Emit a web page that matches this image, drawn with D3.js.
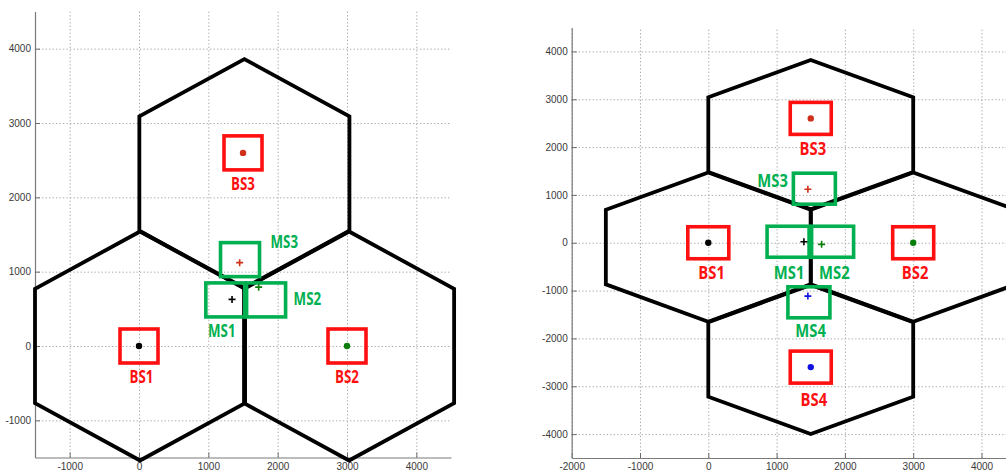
<!DOCTYPE html>
<html><head><meta charset="utf-8">
<script src="https://cdn.jsdelivr.net/npm/d3@7"></script>
<style>
body{margin:0;background:#fff;}
svg{display:block;}
.tick text{font-family:"Liberation Sans",Arial,sans-serif;font-size:10px;fill:#3a3a3a;}
.lbl{font-family:"Open Sans","Liberation Sans",sans-serif;font-weight:700;font-size:18.5px;}
</style></head>
<body>
<svg id="c" width="1006" height="475"></svg>
<script>
// ---------- data: left panel (3 cells) ----------
const leftTicksX = [-1000, 0, 1000, 2000, 3000, 4000];
const leftTicksY = [-1000, 0, 1000, 2000, 3000, 4000];
const leftCellX = [15, 3030, 1520];
const leftCellY = [0, 0, 2320];
const leftBSNames = ["BS1", "BS2", "BS3"];
const leftBSX = [0, 3000, 1500];
const leftBSY = [0, 0, 2598];
const leftBSLabelX = [35, 3000, 1500];
const leftBSLabelY = [-411, -411, 2186];
const leftMSNames = ["MS1", "MS2", "MS3"];
const leftMSX = [1342, 1726, 1452];
const leftMSY = [627, 792, 1121];
const leftMSBoxX = [1245, 1833, 1457];
const leftMSBoxY = [620, 620, 1162];
const leftMSLabelX = [1194, 2428, 2096];
const leftMSLabelY = [209, 644, 1408];

// ---------- data: right panel (4 cells) ----------
const rightTicksX = [-2000, -1000, 0, 1000, 2000, 3000, 4000];
const rightTicksY = [-4000, -3000, -2000, -1000, 0, 1000, 2000, 3000, 4000];
const rightCellX = [0, 3000, 1500, 1500];
const rightCellY = [-90, -90, 2260, -2440];
const rightBSNames = ["BS1", "BS2", "BS3", "BS4"];
const rightBSX = [0, 3000, 1500, 1500];
const rightBSY = [0, 0, 2600, -2600];
const rightBSLabelX = [48, 3028, 1531, 1546];
const rightBSLabelY = [-613, -613, 1981, -3276];
const rightMSNames = ["MS1", "MS2", "MS3", "MS4"];
const rightMSX = [1400, 1659, 1458, 1458];
const rightMSY = [21, -33, 1117, -1115];
const rightMSBoxX = [1168, 1820, 1553, 1473];
const rightMSBoxY = [21, 21, 1130, -1245];
const rightMSLabelX = [1183, 1845, 941, 1498];
const rightMSLabelY = [-613, -613, 1312, -1826];

const seriesColors = ["#000000", "#0b7d0b", "#d0301a", "#1010e0"];

// ---------- drawing ----------
const svg = d3.select("#c");
const RED = "#ff1010", GREEN = "#00b050";

function panel(cfg) {
  const x = d3.scaleLinear().domain(cfg.xDomain).range(cfg.xRange);
  const y = d3.scaleLinear().domain(cfg.yDomain).range(cfg.yRange);
  const g = svg.append("g");
  const [x0, x1] = cfg.xRange, [y0, y1] = cfg.yRange; // y0 bottom, y1 top
  const w = x1 - x0, h = y0 - y1;

  // grid
  const gx = g.append("g").attr("transform", `translate(0,${y0})`)
    .call(d3.axisBottom(x).tickValues(cfg.ticksX).tickSize(-h).tickFormat(""));
  const gy = g.append("g").attr("transform", `translate(${x0},0)`)
    .call(d3.axisLeft(y).tickValues(cfg.ticksY).tickSize(-w).tickFormat(""));
  [gx, gy].forEach(a => {
    a.select(".domain").remove();
    a.selectAll("line").attr("stroke", "#a8a8a8").attr("stroke-dasharray", "1.3,2.2").attr("stroke-width", 1);
  });

  // axes
  const ax = g.append("g").attr("transform", `translate(0,${y0})`)
    .call(d3.axisBottom(x).tickValues(cfg.ticksX).tickSizeInner(-5).tickSizeOuter(0).tickPadding(5).tickFormat(d3.format("d")));
  const ay = g.append("g").attr("transform", `translate(${x0},0)`)
    .call(d3.axisLeft(y).tickValues(cfg.ticksY).tickSizeInner(-5).tickSizeOuter(0).tickPadding(4).tickFormat(d3.format("d")));
  [ax, ay].forEach(a => {
    a.select(".domain").attr("stroke", "#7a7a7a").attr("stroke-width", 1.2);
    a.selectAll(".tick line").attr("stroke", "#6a6a6a");
  });
  ax.selectAll(".tick text").text(d => String(d));
  ay.selectAll(".tick text").text(d => String(d));

  // hexagons
  const hw = cfg.hexHalfW, R = cfg.hexR;
  const hexPts = (cx, cy) => [
    [cx, cy + R], [cx + hw, cy + R / 2], [cx + hw, cy - R / 2],
    [cx, cy - R], [cx - hw, cy - R / 2], [cx - hw, cy + R / 2]
  ];
  const line = d3.line().x(d => x(d[0])).y(d => y(d[1])).curve(d3.curveLinearClosed);
  g.append("g").selectAll("path").data(cfg.cellX.map((cx, i) => hexPts(cx, cfg.cellY[i])))
    .join("path").attr("d", line).attr("fill", "none")
    .attr("stroke", "#000").attr("stroke-width", 3.8).attr("stroke-linejoin", "miter");

  // red BS boxes
  const bw = cfg.bsBox[0], bh = cfg.bsBox[1];
  g.append("g").selectAll("rect").data(cfg.bsX.map((v, i) => [v, cfg.bsY[i]]))
    .join("rect")
    .attr("x", d => x(d[0]) - bw / 2).attr("y", d => y(d[1]) - bh / 2)
    .attr("width", bw).attr("height", bh)
    .attr("fill", "none").attr("stroke", RED).attr("stroke-width", 3.6);

  // green MS boxes
  const mw = cfg.msBox[0], mh = cfg.msBox[1];
  g.append("g").selectAll("rect").data(cfg.msBoxX.map((v, i) => [v, cfg.msBoxY[i]]))
    .join("rect")
    .attr("x", d => x(d[0]) - mw / 2).attr("y", d => y(d[1]) - mh / 2)
    .attr("width", mw).attr("height", mh)
    .attr("fill", "none").attr("stroke", GREEN).attr("stroke-width", 3.6);

  // BS dots
  g.append("g").selectAll("circle").data(cfg.bsX.map((v, i) => [v, cfg.bsY[i], i]))
    .join("circle").attr("cx", d => x(d[0])).attr("cy", d => y(d[1])).attr("r", 3.2)
    .attr("fill", d => seriesColors[d[2]]);

  // MS plus markers
  const pg = g.append("g").selectAll("g").data(cfg.msX.map((v, i) => [v, cfg.msY[i], i])).join("g")
    .attr("transform", d => `translate(${x(d[0])},${y(d[1])})`);
  pg.append("path").attr("d", "M-3.5,0H3.5M0,-3.5V3.5")
    .attr("stroke", d => seriesColors[d[2]]).attr("stroke-width", 1.6);

  // labels (condensed via horizontal scale)
  const s = cfg.labelScale;
  g.append("g").selectAll("text").data(cfg.bsNames.map((n, i) => [n, cfg.bsLX[i], cfg.bsLY[i]]))
    .join("text").attr("class", "lbl").attr("fill", RED).attr("text-anchor", "middle")
    .attr("transform", d => `translate(${x(d[1])},${y(d[2])}) scale(${s},1)`)
    .attr("dy", "0.36em").text(d => d[0]);
  g.append("g").selectAll("text").data(cfg.msNames.map((n, i) => [n, cfg.msLX[i], cfg.msLY[i]]))
    .join("text").attr("class", "lbl").attr("fill", GREEN).attr("text-anchor", "middle")
    .attr("transform", d => `translate(${x(d[1])},${y(d[2])}) scale(${s},1)`)
    .attr("dy", "0.36em").text(d => d[0]);
}

panel({
  xDomain: [-1500, 4500], xRange: [35, 451],
  yDomain: [-1500, 4500], yRange: [457.5, 11.5],
  ticksX: leftTicksX, ticksY: leftTicksY,
  cellX: leftCellX, cellY: leftCellY, hexHalfW: 1515, hexR: 1540,
  bsX: leftBSX, bsY: leftBSY, bsNames: leftBSNames, bsLX: leftBSLabelX, bsLY: leftBSLabelY,
  msX: leftMSX, msY: leftMSY, msBoxX: leftMSBoxX, msBoxY: leftMSBoxY,
  msNames: leftMSNames, msLX: leftMSLabelX, msLY: leftMSLabelY,
  bsBox: [38, 34], msBox: [39, 34], labelScale: 0.72
});
panel({
  xDomain: [-2000, 5000], xRange: [571.7, 1049.8],
  yDomain: [-4500, 4500], yRange: [458, 27.5],
  ticksX: rightTicksX, ticksY: rightTicksY,
  cellX: rightCellX, cellY: rightCellY, hexHalfW: 1500, hexR: 1560,
  bsX: rightBSX, bsY: rightBSY, bsNames: rightBSNames, bsLX: rightBSLabelX, bsLY: rightBSLabelY,
  msX: rightMSX, msY: rightMSY, msBoxX: rightMSBoxX, msBoxY: rightMSBoxY,
  msNames: rightMSNames, msLX: rightMSLabelX, msLY: rightMSLabelY,
  bsBox: [41, 32], msBox: [42, 31], labelScale: 0.8
});
</script>
</body></html>
